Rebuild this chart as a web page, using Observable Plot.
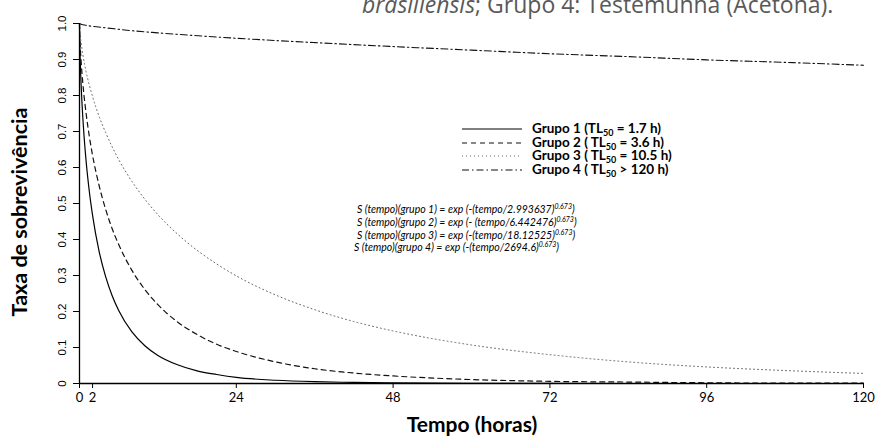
<!DOCTYPE html>
<html><head><meta charset="utf-8">
<script src="https://cdn.jsdelivr.net/npm/d3@7"></script>
<script src="https://cdn.jsdelivr.net/npm/@observablehq/plot@0.6"></script>
<style>
html,body{margin:0;padding:0;background:#fff;overflow:hidden}
#wrap{position:relative;width:883px;height:437px;overflow:hidden}
#title{position:absolute;left:362px;top:-10px;white-space:nowrap;font-family:"Open Sans",sans-serif;font-size:23px;color:#595959;line-height:28px}
#chart{position:absolute;left:0;top:0}
</style></head>
<body>
<div id="wrap"><div id="chart"></div><div id="title"><i>brasiliensis</i>; Grupo 4: Testemunha (Acetona).</div></div>
<script>
const tempo1 = [0,0.05,0.1,0.25,0.5,1,1.5,2,3,4,5,6,8,10,12,15,18,21,24,30,36,42,48,60,72,96,120];
const grupo1 = [1,0.938,0.904,0.829,0.741,0.620,0.534,0.467,0.367,0.297,0.244,0.203,0.144,0.105,0.078,0.052,0.035,0.025,0.017,0.009,0.005,0.003,0.0015,0.0005,0.0002,0,0];
const tempo2 = [0,0.05,0.1,0.25,0.5,1,1.5,2,3,4,5,6,8,10,12,15,18,21,24,30,36,42,48,60,72,84,96,108,120];
const grupo2 = [1,0.963,0.941,0.894,0.836,0.752,0.687,0.634,0.550,0.484,0.430,0.386,0.315,0.261,0.219,0.171,0.136,0.109,0.089,0.060,0.041,0.029,0.021,0.011,0.006,0.004,0.002,0.001,0.001];
const tempo3 = [0,0.1,0.25,0.5,1,2,3,4,6,8,10,12,15,18,21,24,30,36,42,48,60,72,84,96,108,120];
const grupo3 = [1,0.970,0.946,0.915,0.867,0.797,0.742,0.697,0.622,0.562,0.512,0.469,0.415,0.370,0.332,0.299,0.246,0.205,0.172,0.146,0.107,0.080,0.060,0.046,0.036,0.028];
const tempo4 = [0,0.25,1,2,4,8,12,24,36,48,60,72,84,96,108,120];
const grupo4 = [1,0.998,0.995,0.992,0.988,0.980,0.974,0.959,0.947,0.936,0.926,0.916,0.908,0.899,0.892,0.884];

const xTicks = [0,2,24,48,72,96,120];
const yTicks = [0,0.1,0.2,0.3,0.4,0.5,0.6,0.7,0.8,0.9,1.0];
const yTickLabels = ["0","0.1","0.2","0.3","0.4","0.5","0.6","0.7","0.8","0.9","1.0"];

const legendNames = ["Grupo 1 (TL","Grupo 2 ( TL","Grupo 3 ( TL","Grupo 4 ( TL"];
const legendTL = [" = 1.7 h)"," = 3.6 h)"," = 10.5 h)"," > 120 h)"];
const equations = [
  ["S (tempo)(grupo 1) = exp (-(tempo/2.993637)","0.673",")"],
  ["S (tempo)(grupo 2) = exp (- (tempo/6.442476)","0.673",")"],
  ["S (tempo)(grupo 3) = exp (-(tempo/18.12525)","0.673",")"],
  ["S (tempo)(grupo 4) = exp (-(tempo/2694.6)","0.673",")"]
];

const styles = [
  {stroke:"#000", dash:null, w:1.2},
  {stroke:"#111", dash:"5,4", w:1.2},
  {stroke:"#666", dash:"1,3", w:1},
  {stroke:"#111", dash:"7,3,1.5,3", w:1.1}
];
const series = [[tempo1,grupo1],[tempo2,grupo2],[tempo3,grupo3],[tempo4,grupo4]];
const tables = series.map(([t,v]) => t.map((d,i) => ({tempo:d, taxa:v[i]})));

const W = 883, H = 437, ML = 79, MR = 20, MT = 23, MB = 54;
const tickFont = '"Lato", sans-serif';

const plot = Plot.plot({
  width: W, height: H,
  marginLeft: ML, marginRight: MR, marginTop: MT, marginBottom: MB,
  x: {domain:[0,120]},
  y: {domain:[0,1]},
  style: {fontFamily: tickFont, background:"#fff", overflow:"visible"},
  marks: [
    ...tables.map((tb,i) => Plot.line(tb, {x:"tempo", y:"taxa", curve:"monotone-x",
      stroke: styles[i].stroke, strokeWidth: styles[i].w, strokeDasharray: styles[i].dash})),
    Plot.axisX({ticks:xTicks, tickSize:5, tickPadding:4, label:null, fontSize:13, tickFormat:d=>String(d), fontFamily:tickFont}),
    Plot.axisY({ticks:yTicks, tickSize:6, label:null, tickFormat:()=>""}),
    Plot.text(yTicks, {y:d=>d, text:(d,i)=>yTickLabels[i], frameAnchor:"left", dx:-17, rotate:-90, textAnchor:"middle", fontSize:11.5, fontFamily:'"Liberation Sans", sans-serif'}),
    Plot.ruleX([0], {strokeWidth:1.3}),
    Plot.ruleY([0], {strokeWidth:1.3})
  ]
});
document.getElementById("chart").appendChild(plot);

const svg = d3.select(plot);
// axis titles
svg.append("text").attr("x", 472).attr("y", 432).attr("text-anchor","middle")
  .attr("font-family","Lato, sans-serif").attr("font-weight","bold").attr("font-size",21).text("Tempo (horas)");
svg.append("text").attr("transform",`translate(27,212) rotate(-90)`).attr("text-anchor","middle")
  .attr("font-family","Lato, sans-serif").attr("font-weight","bold").attr("font-size",21.5).text("Taxa de sobrevivência");

// legend
const legY = [129,143,156,170];
legendNames.forEach((nm,i) => {
  const y = legY[i];
  svg.append("line").attr("x1",462).attr("x2",522).attr("y1",y).attr("y2",y)
    .attr("stroke",styles[i].stroke).attr("stroke-width",styles[i].w)
    .attr("stroke-dasharray",styles[i].dash);
  const t = svg.append("text").attr("x",532).attr("y",y+4).attr("text-anchor","start")
    .attr("font-family","Lato, sans-serif").attr("font-weight","bold").attr("font-size",13.5);
  t.append("tspan").text(nm);
  t.append("tspan").attr("font-size",9).attr("dy",3).text("50");
  t.append("tspan").attr("dy",-3).text(legendTL[i]);
});

// equations
const eqY = [213,226,239,251];
const eqX = [357,357,357,354];
equations.forEach((eq,i) => {
  const t = svg.append("text").attr("x",eqX[i]).attr("y",eqY[i]).attr("text-anchor","start")
    .attr("font-family","Lato, sans-serif").attr("font-style","italic").attr("font-size",10.5);
  t.append("tspan").text(eq[0]);
  t.append("tspan").attr("font-size",7).attr("dy",-4).text(eq[1]);
  t.append("tspan").attr("dy",4).text(eq[2]);
});
</script>
</body></html>
